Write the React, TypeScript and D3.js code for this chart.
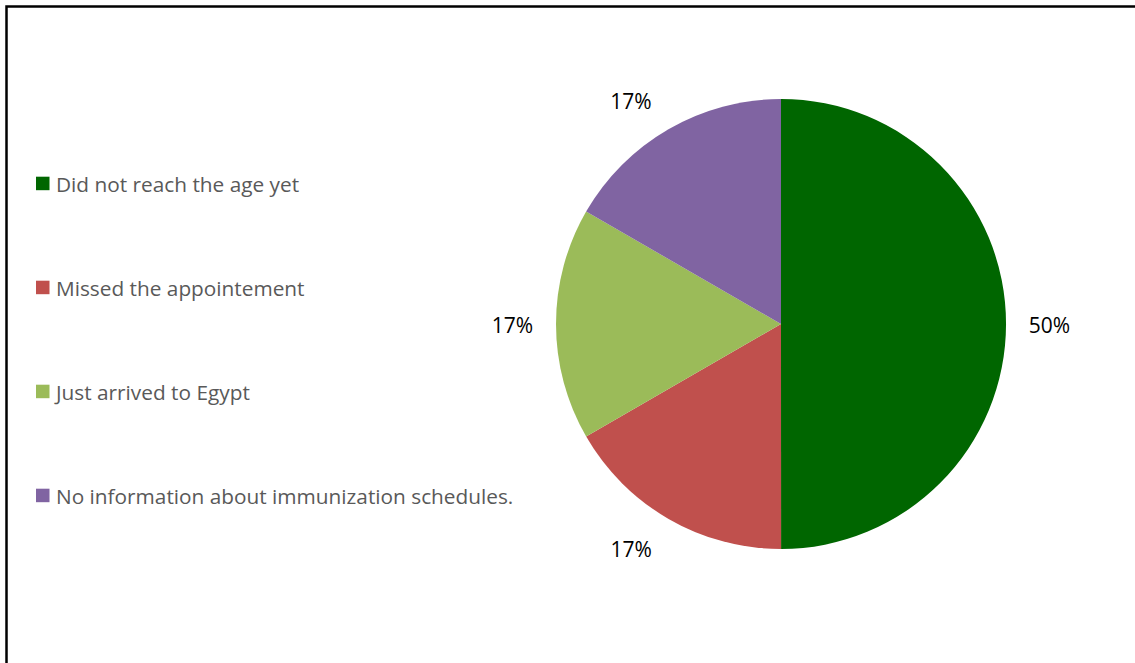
import React from "react";
import * as d3 from "d3";

const categories = [
  "Did not reach the age yet",
  "Missed the appointement",
  "Just arrived to Egypt",
  "No information about immunization schedules.",
];
const values = [50, 16.67, 16.67, 16.67];
const labels = ["50%", "17%", "17%", "17%"];
const colors = ["#006600", "#C0504D", "#9BBB59", "#8064A2"];

const W = 1135;
const H = 663;

export default function App() {
  const cx = 781;
  const cy = 324;
  const r = 225;
  const pie = d3.pie<number>().sort(null).value((d) => d);
  const arcs = pie(values);
  const arcGen = d3.arc<d3.PieArcDatum<number>>().innerRadius(0).outerRadius(r);
  const font = "'Open Sans', 'Noto Sans', sans-serif";
  const legendY = d3.scalePoint<string>().domain(categories).range([183.5, 495.5]);

  return (
    <svg width={W} height={H} style={{ position: "absolute", left: 0, top: 0 }}>
      <rect x={0} y={0} width={W} height={H} fill="#fff" />
      <rect x={6.5} y={6.5} width={W + 10} height={H + 10} fill="none" stroke="#000" strokeWidth={2.5} />
      <g transform={`translate(${cx},${cy})`}>
        {arcs.map((a, i) => (
          <path key={i} d={arcGen(a) || ""} fill={colors[i]} />
        ))}
        {arcs.map((a, i) => {
          const mid = (a.startAngle + a.endAngle) / 2;
          const dx = Math.sin(mid);
          const dy = -Math.cos(mid);
          const R = 237;
          const sx = Math.abs(dx) < 0.01 ? 0 : Math.sign(dx);
          const sy = Math.abs(dy) < 0.01 ? 0 : Math.sign(dy);
          const x = R * dx + 31.5 * sx;
          const y = R * dy + 19 * sy;
          return (
            <text
              key={i}
              x={x}
              y={y + 1}
              textAnchor="middle"
              dominantBaseline="central"
              fontFamily={font}
              fontSize={21}
              fill="#000"
            >
              {labels[i]}
            </text>
          );
        })}
      </g>
      {categories.map((c, i) => {
        const y = legendY(c) as number;
        return (
          <g key={c}>
            <rect x={36} y={y - 6.8} width={13.5} height={13.5} fill={colors[i]} />
            <text
              x={56}
              y={y}
              dominantBaseline="central"
              fontFamily={font}
              fontSize={20.8}
              fill="#595959"
            >
              {c}
            </text>
          </g>
        );
      })}
    </svg>
  );
}
